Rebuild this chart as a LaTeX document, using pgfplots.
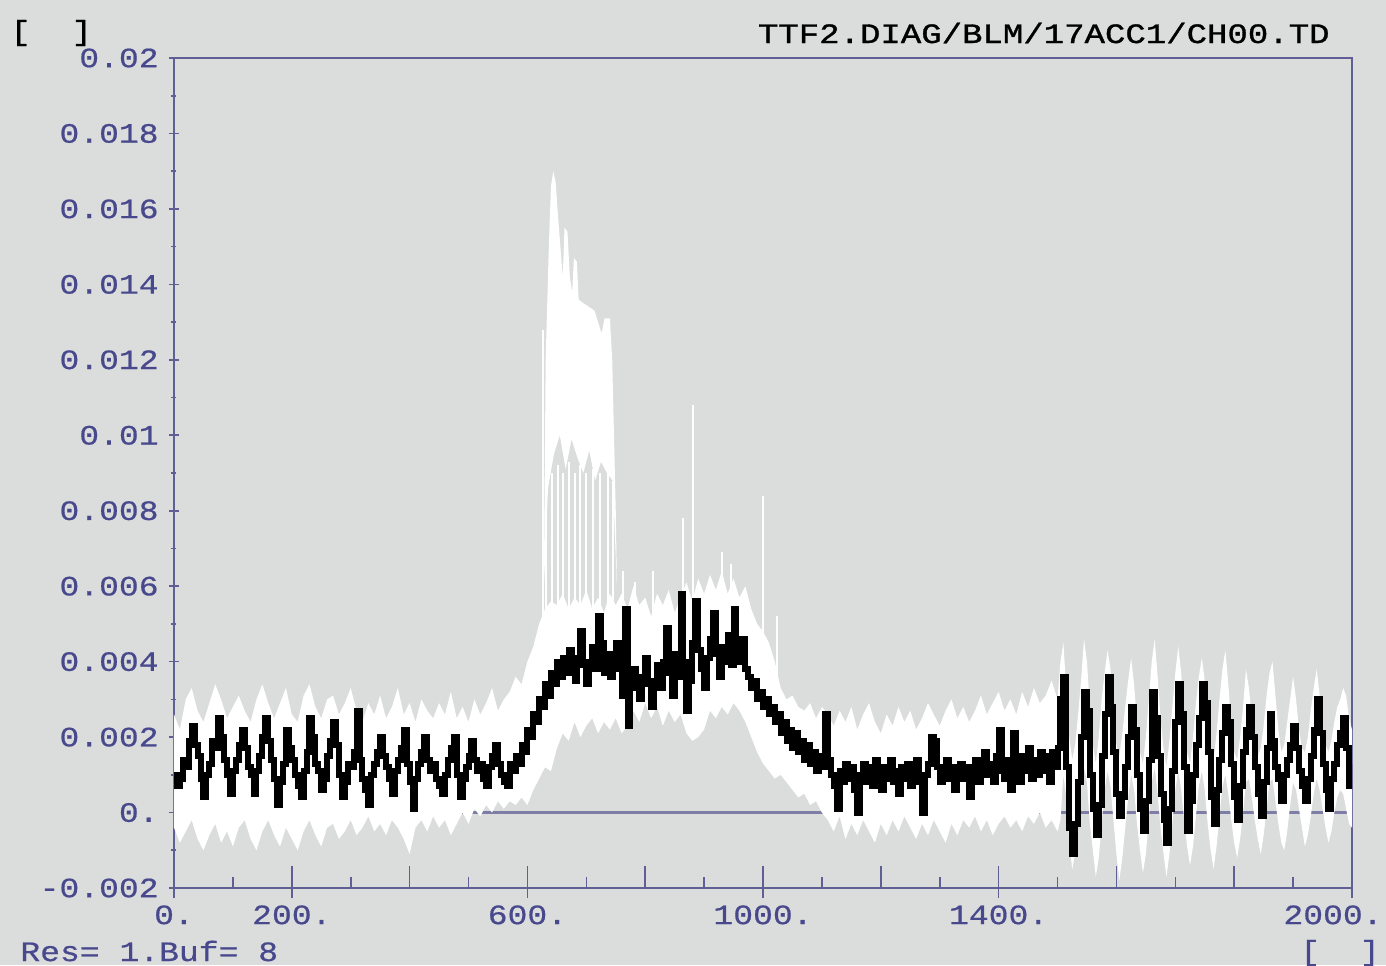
\documentclass[border=0pt]{standalone}
\usepackage{fontspec}
\usepackage{pgfplots}
\pgfplotsset{compat=1.18}
\newfontfamily\monofont{Liberation Mono}[FakeStretch=1.18,FakeBold=0.6]
\newfontfamily\titlefont{Liberation Mono}[FakeStretch=1.215,FakeBold=1.2]
\newcommand\lf{\monofont\fontsize{14pt}{14pt}\selectfont}
\newcommand\tf{\titlefont\fontsize{14pt}{14pt}\selectfont}
\definecolor{bg}{RGB}{219,220,220}
\definecolor{lblue}{RGB}{72,72,140}
\definecolor{frame}{RGB}{95,95,150}
\definecolor{zline}{RGB}{125,125,165}
\begin{document}
\begin{tikzpicture}
\fill[bg] (-87pt,-38.5pt) rectangle (606pt,444pt);
\begin{axis}[
  at={(0pt,0pt)}, anchor=south west,
  scale only axis, width=589pt, height=415pt,
  xmin=0, xmax=2000, ymin=-0.002, ymax=0.02,
  axis line style={draw=frame, line width=1.3pt},
  xtick=\empty,
  ytick={-0.002,0,0.002,0.004,0.006,0.008,0.01,0.012,0.014,0.016,0.018,0.02},
  yticklabels={-0.002,0.,0.002,0.004,0.006,0.008,0.01,0.012,0.014,0.016,0.018,0.02},
  minor y tick num=1,
  ytick pos=left,
  tick align=center,
  major tick length=5pt, minor tick length=2.5pt,
  tick style={draw=frame, line width=0.8pt},
  scaled y ticks=false,
  yticklabel style={font=\lf, text=lblue, inner sep=0pt, anchor=east, xshift=-5pt},
  no markers,
]
\addplot[zline, line width=1.5pt] coordinates {(0,0) (2000,0)};
% white trace envelope: upper edge left to right, then lower edge right to left
\addplot[fill=white, draw=none] coordinates {
(0,0.0026)(10,0.0022)(20,0.0030)(30,0.0033)(40,0.0027)(50,0.0024)(60,0.0029)(70,0.0034)
(80,0.0030)(90,0.0025)(100,0.0028)(110,0.0031)(120,0.0027)(130,0.0024)(140,0.0030)(150,0.0034)
(160,0.0029)(170,0.0025)(180,0.0029)(190,0.0033)(200,0.0026)(210,0.0024)(220,0.0031)(230,0.0034)
(240,0.0028)(250,0.0025)(260,0.0030)(270,0.0031)(280,0.0026)(290,0.0029)(300,0.0033)(310,0.0027)
(320,0.0024)(330,0.0029)(340,0.0026)(350,0.0031)(360,0.0025)(370,0.0028)(380,0.0033)(390,0.0026)
(400,0.0029)(410,0.0024)(420,0.0030)(430,0.0027)(440,0.0025)(450,0.0029)(460,0.0026)(470,0.0032)
(480,0.0025)(490,0.0028)(500,0.0024)(510,0.0030)(520,0.0026)(530,0.0029)(540,0.0033)(550,0.0027)
(560,0.0030)(570,0.0032)(580,0.0036)(590,0.0034)(600,0.0040)(610,0.0044)(620,0.0050)(630,0.0054)
(640,0.0056)(650,0.0055)(660,0.0058)(670,0.0054)(680,0.0057)(690,0.0055)(700,0.0059)(710,0.0054)
(720,0.0057)(730,0.0053)(740,0.0058)(750,0.0055)(760,0.0058)(770,0.0054)(780,0.0060)(790,0.0055)
(800,0.0057)(810,0.0052)(820,0.0058)(830,0.0055)(840,0.0059)(850,0.0053)(860,0.0057)(870,0.0061)
(880,0.0056)(890,0.0062)(900,0.0058)(910,0.0063)(920,0.0059)(930,0.0064)(940,0.0058)(950,0.0062)
(960,0.0057)(970,0.0060)(980,0.0054)(990,0.0050)(1000,0.0048)(1010,0.0045)(1020,0.0040)(1030,0.0033)
(1040,0.0030)(1050,0.0031)(1060,0.0028)(1070,0.0027)(1080,0.0029)(1090,0.0025)(1100,0.0028)(1110,0.0026)
(1120,0.0023)(1130,0.0027)(1140,0.0024)(1150,0.0028)(1160,0.0022)(1170,0.0026)(1180,0.0029)(1190,0.0024)
(1200,0.0021)(1210,0.0026)(1220,0.0023)(1230,0.0028)(1240,0.0024)(1250,0.0027)(1260,0.0022)(1270,0.0025)
(1280,0.0029)(1290,0.0026)(1300,0.0023)(1310,0.0027)(1320,0.0030)(1330,0.0025)(1340,0.0028)(1350,0.0024)
(1360,0.0027)(1370,0.0031)(1380,0.0026)(1390,0.0029)(1400,0.0032)(1410,0.0027)(1420,0.0030)(1430,0.0026)
(1440,0.0032)(1450,0.0028)(1460,0.0033)(1470,0.0029)(1480,0.0031)(1490,0.0035)(1500,0.0030)(1505,0.0040)
(1510,0.0045)(1515,0.0032)(1520,0.0020)(1525,0.0014)(1530,0.0018)(1535,0.0026)(1540,0.0035)(1545,0.0046)
(1550,0.0040)(1555,0.0028)(1560,0.0018)(1565,0.0013)(1570,0.0020)(1575,0.0030)(1580,0.0037)(1585,0.0043)
(1590,0.0038)(1595,0.0026)(1600,0.0018)(1605,0.0015)(1610,0.0021)(1615,0.0028)(1620,0.0035)(1625,0.0041)
(1630,0.0034)(1635,0.0024)(1640,0.0016)(1645,0.0013)(1650,0.0020)(1655,0.0030)(1660,0.0040)(1665,0.0046)
(1670,0.0036)(1675,0.0025)(1680,0.0017)(1685,0.0012)(1690,0.0019)(1695,0.0028)(1700,0.0037)(1705,0.0044)
(1710,0.0037)(1715,0.0025)(1720,0.0016)(1725,0.0013)(1730,0.0020)(1735,0.0029)(1740,0.0036)(1745,0.0041)
(1750,0.0035)(1755,0.0024)(1760,0.0017)(1765,0.0014)(1770,0.0021)(1775,0.0030)(1780,0.0038)(1785,0.0043)
(1790,0.0034)(1795,0.0023)(1800,0.0016)(1805,0.0014)(1810,0.0020)(1815,0.0028)(1820,0.0038)(1825,0.0033)
(1830,0.0025)(1835,0.0018)(1840,0.0015)(1845,0.0017)(1850,0.0023)(1855,0.0031)(1860,0.0037)(1865,0.0040)
(1870,0.0031)(1875,0.0022)(1880,0.0016)(1885,0.0018)(1890,0.0024)(1895,0.0030)(1900,0.0036)(1905,0.0030)
(1910,0.0022)(1915,0.0017)(1920,0.0016)(1925,0.0020)(1930,0.0027)(1935,0.0033)(1940,0.0038)(1945,0.0031)
(1950,0.0023)(1955,0.0018)(1960,0.0016)(1965,0.0019)(1970,0.0024)(1975,0.0028)(1980,0.0030)(1985,0.0033)
(1990,0.0031)(1995,0.0025)(2000,0.0022)
(2000,-0.0004)(1995,-0.0003)(1990,0.0001)(1985,0.0005)(1980,0.0006)(1975,0.0004)(1970,0.0000)(1965,-0.0005)
(1960,-0.0008)(1955,-0.0004)(1950,0.0001)(1945,0.0006)(1940,0.0009)(1935,0.0005)(1930,-0.0001)(1925,-0.0006)
(1920,-0.0009)(1915,-0.0004)(1910,0.0001)(1905,0.0006)(1900,0.0008)(1895,0.0002)(1890,-0.0005)(1885,-0.0010)
(1880,-0.0008)(1875,-0.0003)(1870,0.0003)(1865,0.0009)(1860,0.0008)(1855,0.0001)(1850,-0.0006)(1845,-0.0011)
(1840,-0.0007)(1835,-0.0002)(1830,0.0004)(1825,0.0009)(1820,0.0008)(1815,0.0000)(1810,-0.0007)(1805,-0.0012)
(1800,-0.0008)(1795,-0.0002)(1790,0.0005)(1785,0.0010)(1780,0.0007)(1775,-0.0001)(1770,-0.0009)(1765,-0.0015)
(1760,-0.0010)(1755,-0.0003)(1750,0.0006)(1745,0.0011)(1740,0.0007)(1735,-0.0001)(1730,-0.0009)(1725,-0.0014)
(1720,-0.0009)(1715,-0.0002)(1710,0.0006)(1705,0.0011)(1700,0.0006)(1695,-0.0003)(1690,-0.0011)(1685,-0.0017)
(1680,-0.0011)(1675,-0.0004)(1670,0.0005)(1665,0.0012)(1660,0.0008)(1655,-0.0002)(1650,-0.0011)(1645,-0.0016)
(1640,-0.0010)(1635,-0.0003)(1630,0.0006)(1625,0.0010)(1620,0.0004)(1615,-0.0004)(1610,-0.0012)(1605,-0.0018)
(1600,-0.0011)(1595,-0.0002)(1590,0.0007)(1585,0.0011)(1580,0.0006)(1575,-0.0003)(1570,-0.0012)(1565,-0.0017)
(1560,-0.0010)(1555,-0.0003)(1550,0.0008)(1545,0.0012)(1540,0.0006)(1535,-0.0002)(1530,-0.0011)(1525,-0.0015)
(1520,-0.0008)(1515,0.0004)(1510,0.0010)(1505,-0.0002)(1500,-0.0005)(1490,-0.0002)(1480,-0.0004)(1470,0.0000)
(1460,-0.0003)(1450,-0.0001)(1440,-0.0005)(1430,-0.0002)(1420,-0.0004)(1410,-0.0001)(1400,-0.0003)(1390,-0.0006)
(1380,-0.0002)(1370,-0.0005)(1360,-0.0001)(1350,-0.0004)(1340,-0.0002)(1330,-0.0006)(1320,-0.0003)(1310,-0.0008)
(1300,-0.0005)(1290,-0.0002)(1280,-0.0006)(1270,-0.0003)(1260,-0.0007)(1250,-0.0004)(1240,-0.0001)(1230,-0.0005)
(1220,-0.0002)(1210,-0.0006)(1200,-0.0003)(1190,-0.0008)(1180,-0.0005)(1170,-0.0002)(1160,-0.0006)(1150,-0.0003)
(1140,-0.0007)(1130,-0.0001)(1120,-0.0005)(1110,-0.0002)(1100,0.0000)(1090,0.0003)(1080,0.0002)(1070,0.0005)
(1060,0.0004)(1050,0.0006)(1040,0.0008)(1030,0.0010)(1020,0.0009)(1010,0.0011)(1000,0.0013)(990,0.0016)
(980,0.0020)(970,0.0024)(960,0.0027)(950,0.0029)(940,0.0026)(930,0.0028)(920,0.0025)(910,0.0027)
(900,0.0022)(890,0.0020)(880,0.0019)(870,0.0021)(860,0.0026)(850,0.0024)(840,0.0027)(830,0.0023)
(820,0.0028)(810,0.0025)(800,0.0029)(790,0.0024)(780,0.0027)(770,0.0023)(760,0.0021)(750,0.0025)
(740,0.0022)(730,0.0024)(720,0.0021)(710,0.0025)(700,0.0023)(690,0.0020)(680,0.0024)(670,0.0019)
(660,0.0021)(650,0.0017)(640,0.0011)(630,0.0012)(620,0.0009)(610,0.0006)(600,0.0002)(590,0.0004)
(580,0.0002)(570,0.0003)(560,0.0001)(550,0.0003)(540,0.0000)(530,0.0002)(520,-0.0001)(510,0.0001)
(500,-0.0003)(490,0.0000)(480,-0.0003)(470,-0.0006)(460,-0.0002)(450,-0.0004)(440,-0.0001)(430,-0.0005)
(420,-0.0002)(410,-0.0004)(400,-0.0011)(390,-0.0007)(380,-0.0004)(370,-0.0002)(360,-0.0006)(350,-0.0003)
(340,-0.0005)(330,-0.0001)(320,-0.0004)(310,-0.0006)(300,-0.0002)(290,-0.0005)(280,-0.0007)(270,-0.0003)
(260,-0.0004)(250,-0.0009)(240,-0.0006)(230,-0.0002)(220,-0.0005)(210,-0.0010)(200,-0.0007)(190,-0.0004)
(180,-0.0009)(170,-0.0006)(160,-0.0002)(150,-0.0005)(140,-0.0010)(130,-0.0007)(120,-0.0002)(110,-0.0004)
(100,-0.0009)(90,-0.0005)(80,-0.0008)(70,-0.0003)(60,-0.0006)(50,-0.0010)(40,-0.0007)(30,-0.0002)
(20,-0.0005)(10,-0.0008)(0,-0.0004)
};
% spike body of the white trace
\addplot[fill=white, draw=none] coordinates {
(628,0.0060)(631,0.0120)(636,0.0148)(640,0.0166)(644,0.0170)(648,0.0167)(652,0.0158)(656,0.0150)
(660,0.0142)(663,0.0155)(668,0.0154)(672,0.0142)(676,0.0138)(679,0.0147)(684,0.0146)(687,0.0136)
(695,0.0135)(705,0.0134)(714,0.0133)(720,0.0130)(726,0.0127)(731,0.0131)(740,0.0131)(744,0.0120)
(747,0.0100)(750,0.0080)(752,0.0060)
(745,0.0088)(735,0.0090)(725,0.0093)(715,0.0088)(705,0.0096)(695,0.0090)(685,0.0094)(675,0.0099)
(665,0.0091)(655,0.0100)(645,0.0095)(635,0.0086)
};
% thin white streaks and spikes
\addplot[white, line width=1pt, unbounded coords=jump] coordinates {
(626,0.0050)(626,0.0128)(626,nan)
(632,0.0050)(632,0.0092)(632,nan)
(641,0.0050)(641,0.0090)(641,nan)
(652,0.0050)(652,0.0092)(652,nan)
(661,0.0050)(661,0.0090)(661,nan)
(671,0.0050)(671,0.0093)(671,nan)
(680,0.0050)(680,0.0090)(680,nan)
(690,0.0050)(690,0.0092)(690,nan)
(700,0.0050)(700,0.0090)(700,nan)
(712,0.0050)(712,0.0091)(712,nan)
(724,0.0050)(724,0.0090)(724,nan)
(736,0.0050)(736,0.0092)(736,nan)
(746,0.0050)(746,0.0088)(746,nan)
(762,0.0050)(762,0.0064)(762,nan)
(782,0.0050)(782,0.0061)(782,nan)
(813,0.0050)(813,0.0064)(813,nan)
(864,0.0050)(864,0.0078)(864,nan)
(881,0.0050)(881,0.0108)(881,nan)
(930,0.0050)(930,0.0069)(930,nan)
(945,0.0050)(945,0.0066)(945,nan)
(1000,0.0040)(1000,0.0084)(1000,nan)
(1024,0.0035)(1024,0.0052)
};
% black trace
\addplot[black, line width=3pt, const plot] coordinates {
(0,0.0010)(5,0.0007)(10,0.0009)(15,0.0014)(20,0.0012)(25,0.0019)(30,0.0023)(35,0.0018)
(40,0.0015)(45,0.0009)(50,0.0004)(55,0.0010)(60,0.0013)(65,0.0019)(70,0.0017)(75,0.0025)
(80,0.0020)(85,0.0014)(90,0.0010)(95,0.0005)(100,0.0011)(105,0.0014)(110,0.0018)(115,0.0022)
(120,0.0017)(125,0.0012)(130,0.0010)(135,0.0005)(140,0.0011)(145,0.0015)(150,0.0020)(155,0.0025)
(160,0.0019)(165,0.0014)(170,0.0009)(175,0.0002)(180,0.0008)(185,0.0013)(190,0.0022)(195,0.0017)
(200,0.0014)(205,0.0010)(210,0.0007)(215,0.0004)(220,0.0011)(225,0.0016)(230,0.0025)(235,0.0020)
(240,0.0013)(245,0.0011)(250,0.0006)(255,0.0009)(260,0.0015)(265,0.0019)(270,0.0024)(275,0.0018)
(280,0.0010)(285,0.0004)(290,0.0008)(295,0.0013)(300,0.0012)(305,0.0016)(310,0.0027)(315,0.0014)
(320,0.0009)(325,0.0006)(330,0.0002)(335,0.0010)(340,0.0013)(345,0.0016)(350,0.0020)(355,0.0015)
(360,0.0012)(365,0.0009)(370,0.0005)(375,0.0011)(380,0.0014)(385,0.0017)(390,0.0022)(395,0.0013)
(400,0.0008)(405,0.0001)(410,0.0009)(415,0.0013)(420,0.0016)(425,0.0020)(430,0.0014)(435,0.0011)
(440,0.0013)(445,0.0009)(450,0.0007)(455,0.0005)(460,0.0010)(465,0.0014)(470,0.0017)(475,0.0020)
(480,0.0010)(485,0.0004)(490,0.0009)(495,0.0012)(500,0.0015)(505,0.0019)(510,0.0014)(515,0.0011)
(520,0.0013)(525,0.0009)(530,0.0007)(535,0.0012)(540,0.0015)(545,0.0018)(550,0.0013)(555,0.0010)
(560,0.0008)(565,0.0007)(570,0.0013)(575,0.0011)(580,0.0015)(585,0.0013)(590,0.0018)(595,0.0016)
(600,0.0022)(605,0.0020)(610,0.0026)(615,0.0024)(620,0.0030)(625,0.0028)(630,0.0034)(635,0.0031)
(640,0.0037)(645,0.0034)(650,0.0040)(655,0.0036)(660,0.0041)(665,0.0037)(670,0.0043)(675,0.0038)
(680,0.0035)(685,0.0041)(690,0.0048)(695,0.0039)(700,0.0034)(705,0.0040)(710,0.0044)(715,0.0038)
(720,0.0052)(725,0.0045)(730,0.0037)(735,0.0042)(740,0.0036)(745,0.0040)(750,0.0045)(755,0.0038)
(760,0.0031)(765,0.0054)(770,0.0023)(775,0.0034)(780,0.0038)(785,0.0033)(790,0.0030)(795,0.0036)
(800,0.0041)(805,0.0034)(810,0.0028)(815,0.0035)(820,0.0039)(825,0.0033)(830,0.0040)(835,0.0049)
(840,0.0037)(845,0.0031)(850,0.0042)(855,0.0036)(860,0.0058)(865,0.0040)(870,0.0027)(875,0.0035)
(880,0.0045)(885,0.0056)(890,0.0043)(895,0.0038)(900,0.0033)(905,0.0041)(910,0.0046)(915,0.0053)
(920,0.0042)(925,0.0036)(930,0.0044)(935,0.0040)(940,0.0047)(945,0.0039)(950,0.0054)(955,0.0044)
(960,0.0040)(965,0.0046)(970,0.0038)(975,0.0036)(980,0.0033)(985,0.0035)(990,0.0030)(995,0.0032)
(1000,0.0028)(1005,0.0030)(1010,0.0026)(1015,0.0028)(1020,0.0024)(1025,0.0026)(1030,0.0021)(1035,0.0024)
(1040,0.0019)(1045,0.0022)(1050,0.0017)(1055,0.0021)(1060,0.0016)(1065,0.0019)(1070,0.0014)(1075,0.0018)
(1080,0.0013)(1085,0.0016)(1090,0.0011)(1095,0.0015)(1100,0.0012)(1105,0.0026)(1110,0.0014)(1115,0.0010)
(1120,0.0007)(1125,0.0001)(1130,0.0011)(1135,0.0008)(1140,0.0013)(1145,0.0009)(1150,0.0012)(1155,0.0006)
(1160,0.0000)(1165,0.0010)(1170,0.0013)(1175,0.0008)(1180,0.0012)(1185,0.0007)(1190,0.0014)(1195,0.0010)
(1200,0.0006)(1205,0.0012)(1210,0.0009)(1215,0.0014)(1220,0.0008)(1225,0.0011)(1230,0.0005)(1235,0.0012)
(1240,0.0009)(1245,0.0013)(1250,0.0007)(1255,0.0011)(1260,0.0014)(1265,0.0008)(1270,0.0000)(1275,0.0010)
(1280,0.0013)(1285,0.0020)(1290,0.0019)(1295,0.0012)(1300,0.0008)(1305,0.0011)(1310,0.0014)(1315,0.0009)
(1320,0.0012)(1325,0.0006)(1330,0.0010)(1335,0.0013)(1340,0.0009)(1345,0.0012)(1350,0.0004)(1355,0.0010)
(1360,0.0014)(1365,0.0008)(1370,0.0012)(1375,0.0016)(1380,0.0010)(1385,0.0013)(1390,0.0008)(1395,0.0015)
(1400,0.0022)(1405,0.0011)(1410,0.0009)(1415,0.0014)(1420,0.0006)(1425,0.0021)(1430,0.0012)(1435,0.0008)
(1440,0.0015)(1445,0.0011)(1450,0.0017)(1455,0.0009)(1460,0.0014)(1465,0.0010)(1470,0.0016)(1475,0.0011)
(1480,0.0015)(1485,0.0008)(1490,0.0016)(1495,0.0012)(1500,0.0017)(1505,0.0030)(1510,0.0036)(1515,0.0012)
(1520,-0.0004)(1525,-0.0011)(1530,-0.0003)(1535,0.0008)(1540,0.0020)(1545,0.0032)(1550,0.0027)(1555,0.0010)
(1560,0.0001)(1565,-0.0006)(1570,0.0002)(1575,0.0015)(1580,0.0026)(1585,0.0036)(1590,0.0028)(1595,0.0016)
(1600,0.0005)(1605,-0.0001)(1610,0.0004)(1615,0.0012)(1620,0.0020)(1625,0.0028)(1630,0.0022)(1635,0.0010)
(1640,0.0001)(1645,-0.0005)(1650,0.0003)(1655,0.0014)(1660,0.0032)(1665,0.0025)(1670,0.0015)(1675,0.0005)
(1680,-0.0002)(1685,-0.0008)(1690,0.0001)(1695,0.0011)(1700,0.0024)(1705,0.0034)(1710,0.0026)(1715,0.0012)
(1720,-0.0005)(1725,0.0003)(1730,0.0010)(1735,0.0018)(1740,0.0025)(1745,0.0034)(1750,0.0029)(1755,0.0016)
(1760,0.0004)(1765,-0.0003)(1770,0.0006)(1775,0.0014)(1780,0.0021)(1785,0.0028)(1790,0.0024)(1795,0.0013)
(1800,0.0004)(1805,-0.0002)(1810,0.0007)(1815,0.0016)(1820,0.0022)(1825,0.0028)(1830,0.0020)(1835,0.0012)
(1840,0.0005)(1845,-0.0001)(1850,0.0008)(1855,0.0017)(1860,0.0026)(1865,0.0019)(1870,0.0012)(1875,0.0009)
(1880,0.0003)(1885,0.0010)(1890,0.0014)(1895,0.0018)(1900,0.0023)(1905,0.0017)(1910,0.0011)(1915,0.0007)
(1920,0.0003)(1925,0.0009)(1930,0.0015)(1935,0.0022)(1940,0.0030)(1945,0.0021)(1950,0.0013)(1955,0.0006)
(1960,0.0001)(1965,0.0009)(1970,0.0013)(1975,0.0018)(1980,0.0021)(1985,0.0025)(1990,0.0017)(1995,0.0007)
(2000,0.0013)
};
\end{axis}
% inner x ticks
\begin{axis}[
  at={(0pt,0pt)}, anchor=south west,
  scale only axis, width=589pt, height=415pt,
  xmin=0, xmax=2000, ymin=-0.002, ymax=0.02,
  axis line style={draw=none},
  ytick=\empty,
  xtick={0,200,...,2000}, xticklabels={},
  minor x tick num=1,
  xtick pos=bottom,
  tick align=inside,
  major tick length=11pt, minor tick length=5.5pt,
  tick style={draw=frame, line width=0.8pt},
]
\end{axis}
% labelled x ticks
\begin{axis}[
  at={(0pt,0pt)}, anchor=south west,
  scale only axis, width=589pt, height=415pt,
  xmin=0, xmax=2000, ymin=-0.002, ymax=0.02,
  axis line style={draw=none},
  ytick=\empty,
  xtick={0,200,600,1000,1400},
  xticklabels={0.,200.,600.,1000.,1400.},
  extra x ticks={2000},
  extra x tick labels={2000.},
  extra x tick style={xticklabel style={xshift=-9.5pt}},
  xtick pos=bottom,
  tick align=outside,
  major tick length=5pt,
  tick style={draw=frame, line width=0.8pt},
  xticklabel style={font=\lf, text=lblue, inner sep=0pt, anchor=north, yshift=-3.5pt},
]
\end{axis}
\node[font=\tf, text=black, inner sep=0pt, anchor=west] at (-82pt,427.5pt) {[\phantom{00}]};
\node[font=\tf, text=black, inner sep=0pt, anchor=east] at (578pt,427.5pt) {TTF2.DIAG/BLM/17ACC1/CH00.TD};
\node[font=\lf, text=lblue, inner sep=0pt, anchor=west] at (-77pt,-31.5pt) {Res= 1.Buf= 8};
\node[font=\lf, text=lblue, inner sep=0pt, anchor=west] at (563pt,-32.5pt) {[\phantom{00}]};
\pgfresetboundingbox
\path[use as bounding box] (-87pt,-38.5pt) rectangle (606pt,444pt);
\end{tikzpicture}
\end{document}
